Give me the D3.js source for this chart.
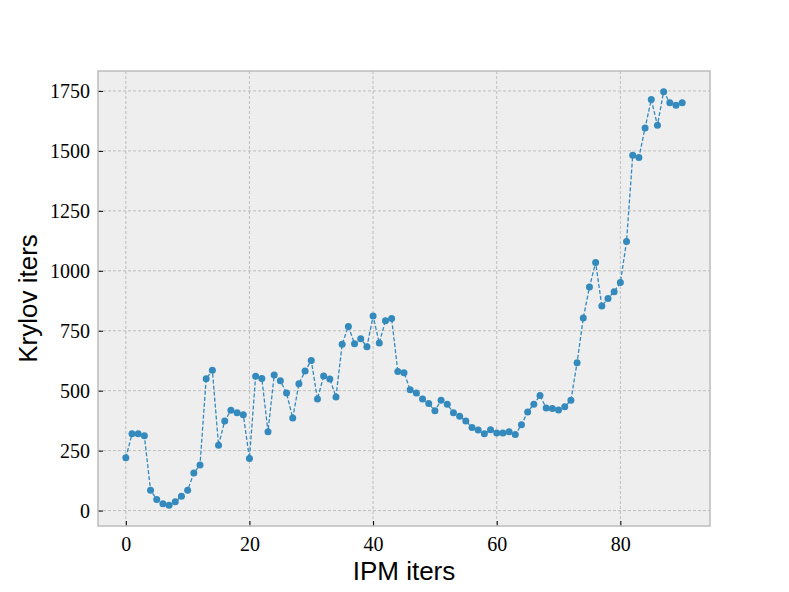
<!DOCTYPE html>
<html>
<head>
<meta charset="utf-8">
<script src="https://cdn.jsdelivr.net/npm/d3@7"></script>
<style>
  body { margin: 0; background: #fff; }
  svg { display: block; }
</style>
</head>
<body>
<div id="chart"></div>
<script>
// Krylov iterations per IPM iteration
const krylovIters = [
  220, 320, 320, 312, 85, 46, 29, 22, 37, 60,
  85, 157, 190, 550, 585, 272, 374, 418, 408, 400,
  217, 560, 551, 329, 565, 541, 490, 386, 529, 582,
  626, 465, 561, 549, 474, 694, 768, 696, 717, 683,
  811, 699, 792, 801, 580, 575, 504, 490, 465, 447,
  416, 460, 443, 408, 393, 374, 347, 336, 320, 337,
  324, 324, 329, 317, 358, 411, 444, 480, 428, 426,
  420, 433, 460, 617, 803, 932, 1035, 853, 885, 913,
  951, 1122, 1482, 1472, 1596, 1714, 1607, 1747, 1701, 1690,
  1701
];
const ipmIters = krylovIters.map((d, i) => i);
const xTicks = [0, 20, 40, 60, 80];
const yTicks = [0, 250, 500, 750, 1000, 1250, 1500, 1750];

const width = 789, height = 592;
const plot = { left: 98, right: 710, top: 71, bottom: 526 };

const svg = d3.select("#chart").append("svg")
    .attr("width", width)
    .attr("height", height);

// matplotlib style 5% margins
const xExt = d3.extent(ipmIters), yExt = d3.extent(krylovIters);
const xPad = (xExt[1] - xExt[0]) * 0.05, yPad = (yExt[1] - yExt[0]) * 0.05;

const x = d3.scaleLinear()
    .domain([xExt[0] - xPad, xExt[1] + xPad])
    .range([plot.left, plot.right]);
const y = d3.scaleLinear()
    .domain([yExt[0] - yPad, yExt[1] + yPad])
    .range([plot.bottom, plot.top]);

svg.append("rect")
    .attr("x", plot.left)
    .attr("y", plot.top)
    .attr("width", plot.right - plot.left)
    .attr("height", plot.bottom - plot.top)
    .attr("fill", "#eeeeee");

// grid
svg.append("g").selectAll("line")
    .data(xTicks)
    .join("line")
    .attr("x1", d => x(d)).attr("x2", d => x(d))
    .attr("y1", plot.top).attr("y2", plot.bottom)
    .attr("stroke", "#b2b2b2")
    .attr("stroke-width", 0.8)
    .attr("stroke-dasharray", "3,2");
svg.append("g").selectAll("line")
    .data(yTicks)
    .join("line")
    .attr("x1", plot.left).attr("x2", plot.right)
    .attr("y1", d => y(d)).attr("y2", d => y(d))
    .attr("stroke", "#b2b2b2")
    .attr("stroke-width", 0.8)
    .attr("stroke-dasharray", "3,2");

// axes, ticks point inward
const fmt = d3.format("d");
const xAxis = svg.append("g")
    .attr("transform", `translate(0,${plot.bottom})`)
    .call(d3.axisBottom(x).tickValues(xTicks).tickFormat(fmt).tickSize(-5).tickPadding(11));
const yAxis = svg.append("g")
    .attr("transform", `translate(${plot.left},0)`)
    .call(d3.axisLeft(y).tickValues(yTicks).tickFormat(fmt).tickSize(-5).tickPadding(8));

[xAxis, yAxis].forEach(g => {
  g.select(".domain").remove();
  g.selectAll(".tick line").attr("stroke", "#000").attr("stroke-width", 1);
  g.selectAll(".tick text")
      .attr("fill", "#000")
      .style("font-family", "'Liberation Serif', 'Times New Roman', serif")
      .style("font-size", "20px");
});
yAxis.selectAll(".tick text").attr("dy", "0.35em");

// frame
svg.append("rect")
    .attr("x", plot.left)
    .attr("y", plot.top)
    .attr("width", plot.right - plot.left)
    .attr("height", plot.bottom - plot.top)
    .attr("fill", "none")
    .attr("stroke", "#bcbcbc")
    .attr("stroke-width", 1.5);

// data line + markers
const line = d3.line()
    .x((d, i) => x(ipmIters[i]))
    .y(d => y(d));

svg.append("path")
    .datum(krylovIters)
    .attr("d", line)
    .attr("fill", "none")
    .attr("stroke", "#348ABD")
    .attr("stroke-width", 1.3)
    .attr("stroke-dasharray", "4,2");

svg.append("g").selectAll("circle")
    .data(krylovIters)
    .join("circle")
    .attr("cx", (d, i) => x(ipmIters[i]))
    .attr("cy", d => y(d))
    .attr("r", 3.5)
    .attr("fill", "#348ABD");

// axis labels
svg.append("text")
    .attr("x", (plot.left + plot.right) / 2)
    .attr("y", 580)
    .attr("text-anchor", "middle")
    .style("font-family", "'Liberation Sans', Arial, sans-serif")
    .style("font-size", "26px")
    .text("IPM iters");

svg.append("text")
    .attr("transform", `translate(37,${(plot.top + plot.bottom) / 2}) rotate(-90)`)
    .attr("text-anchor", "middle")
    .style("font-family", "'Liberation Sans', Arial, sans-serif")
    .style("font-size", "26px")
    .text("Krylov iters");
</script>
</body>
</html>
